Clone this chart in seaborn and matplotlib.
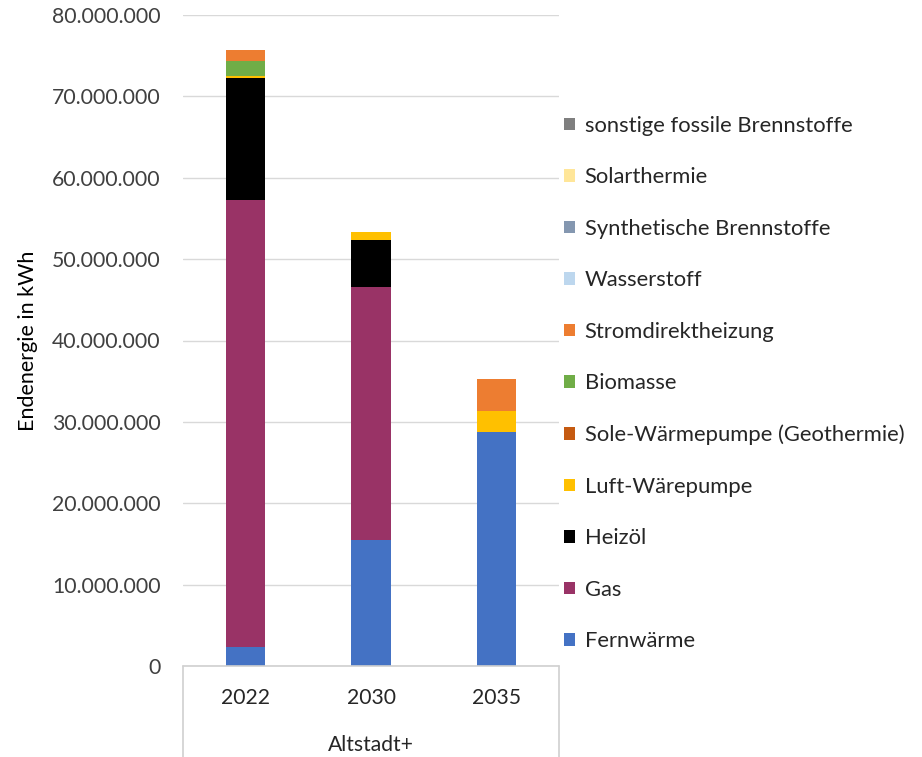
import matplotlib
matplotlib.use("Agg")
import matplotlib.pyplot as plt
import seaborn as sns
import pandas as pd
import numpy as np
from matplotlib.patches import Patch
from matplotlib.ticker import FuncFormatter, MultipleLocator
from matplotlib.lines import Line2D

# Daten (Endenergie in kWh)
jahre = ["2022", "2030", "2035"]
traeger = [
    "Fernwärme", "Gas", "Heizöl", "Luft-Wärepumpe", "Sole-Wärmepumpe (Geothermie)",
    "Biomasse", "Stromdirektheizung", "Wasserstoff", "Synthetische Brennstoffe",
    "Solarthermie", "sonstige fossile Brennstoffe",
]
fernwaerme = [2_300_000, 15_500_000, 28_800_000]
gas = [55_000_000, 31_100_000, 0]
heizoel = [14_900_000, 5_800_000, 0]
luft_wp = [300_000, 900_000, 2_550_000]
sole_wp = [0, 0, 0]
biomasse = [1_900_000, 0, 0]
strom = [1_300_000, 0, 3_950_000]
wasserstoff = [0, 0, 0]
synth = [0, 0, 0]
solarthermie = [0, 0, 0]
sonstige = [0, 0, 0]
farben = ["#4472C4", "#993366", "#000000", "#FFC000", "#C55A11", "#70AD47",
          "#ED7D31", "#BDD7EE", "#8497B0", "#FFE699", "#7F7F7F"]

werte = [fernwaerme, gas, heizoel, luft_wp, sole_wp, biomasse, strom,
         wasserstoff, synth, solarthermie, sonstige]

df = pd.DataFrame(werte, index=traeger, columns=jahre)
kum = df.cumsum()

sns.set_theme(style="white")
plt.rcParams["font.family"] = ["Lato", "DejaVu Sans"]

fig = plt.figure(figsize=(9.22, 7.57), dpi=100)
ax = fig.add_axes([183 / 922, 91 / 757, (559 - 183) / 922, (666 - 15) / 757])

# gestapelte Balken: von oben nach unten zeichnen
for name, farbe in reversed(list(zip(traeger, farben))):
    d = pd.DataFrame({"jahr": jahre, "wert": kum.loc[name].values})
    sns.barplot(data=d, x="jahr", y="wert", color=farbe, width=0.315,
                saturation=1, ax=ax, edgecolor="none", linewidth=0)

ax.set_ylim(0, 80_000_000)
ax.yaxis.set_major_locator(MultipleLocator(10_000_000))
ax.yaxis.set_major_formatter(FuncFormatter(lambda v, p: f"{int(v):,}".replace(",", ".")))
ax.grid(axis="y", color="#D9D9D9", linewidth=1)
ax.set_axisbelow(True)
for s in ax.spines.values():
    s.set_visible(False)
ax.tick_params(axis="y", length=0, labelsize=15.3, colors="#404040", pad=16)
ax.tick_params(axis="x", length=0, labelsize=15.2, colors="#262626", pad=16)
ax.set_xlabel("")
ax.set_ylabel("Endenergie in kWh", fontsize=15.5, color="#000000", labelpad=10)

# Kategorieachse mit Rahmen
lc = "#D0D0D0"
fig.add_artist(Line2D([183 / 922, 559 / 922], [91 / 757, 91 / 757], color=lc, lw=1.2))
fig.add_artist(Line2D([183 / 922, 183 / 922], [0, 91 / 757], color=lc, lw=1.2))
fig.add_artist(Line2D([559 / 922, 559 / 922], [0, 91 / 757], color=lc, lw=1.2))
fig.text((183 + 559) / 2 / 922, 1 - 745 / 757, "Altstadt+", ha="center", va="center",
         fontsize=15.2, color="#262626")

# Legende
handles = [Patch(facecolor=f, edgecolor="none", label=t) for t, f in zip(traeger, farben)]
handles = handles[::-1]
leg = fig.legend(handles=handles, loc="upper left", bbox_to_anchor=(555 / 922, 1 - 107 / 757),
                 frameon=False, fontsize=15.8, handlelength=0.5, handleheight=0.5,
                 handletextpad=0.45, labelspacing=1.435, borderaxespad=0)
for t in leg.get_texts():
    t.set_color("#262626")

fig.savefig("out.png", dpi=100)
